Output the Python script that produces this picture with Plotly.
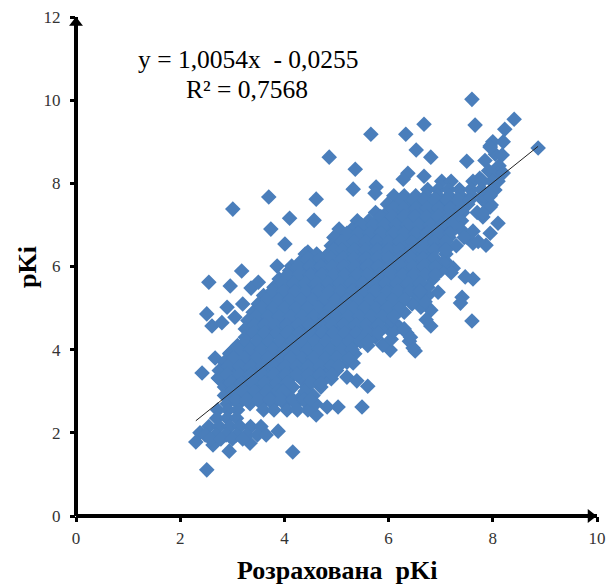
import plotly.graph_objects as go

# Isolated points
outlier_x = [7.60, 8.41, 8.23, 7.66, 6.68, 6.33, 5.66, 8.87, 4.86, 6.53, 6.81, 7.50, 5.36, 6.68, 6.37, 6.28,
             5.32, 5.76, 5.74, 4.61, 4.57, 4.45, 3.70, 3.01, 4.10, 3.74, 4.01, 3.18, 2.55, 2.96, 3.36, 3.86,
             4.14, 2.51, 2.61, 2.90, 2.42, 2.67, 2.96, 2.86, 2.73, 2.30, 2.51, 3.88, 4.16, 3.34, 2.94, 2.63,
             2.38, 7.60, 6.81, 6.03, 6.51, 5.32, 7.41, 7.62, 7.47, 7.24, 6.81, 6.62, 6.95, 7.87, 7.62, 7.95,
             8.10, 8.04, 7.97, 7.81, 5.49, 5.03, 4.82, 4.61, 5.60, 5.20, 5.39, 6.47, 5.89, 7.38, 7.70, 6.35,
             7.95, 8.05, 7.85, 8.12, 7.92, 7.75, 6.72, 6.40, 6.20, 4.42, 4.30, 3.50, 3.20, 3.05, 2.80,
             8.00, 8.20, 8.18, 7.95, 8.10, 7.98, 8.20, 8.10, 7.81, 7.95, 7.81, 7.49, 7.62, 7.72,
             6.00, 6.05, 6.10, 6.00, 6.60, 6.75, 6.70, 7.15, 7.20, 6.30, 6.42]
outlier_y = [10.02, 9.54, 9.30, 9.40, 9.42, 9.18, 9.18, 8.85, 8.63, 8.80, 8.63, 8.53, 8.34, 8.17, 8.24, 8.10,
             7.86, 7.91, 7.76, 7.62, 7.11, 6.35, 7.67, 7.38, 7.16, 6.90, 6.54, 5.89, 5.62, 5.53, 5.48, 6.01,
             6.01, 4.86, 4.57, 5.02, 3.44, 3.80, 3.92, 3.56, 3.32, 1.78, 1.11, 2.04, 1.54, 1.75, 1.56, 1.71,
             2.00, 4.69, 4.57, 3.99, 3.97, 3.68, 5.26, 5.70, 5.75, 5.96, 4.95, 5.02, 5.38, 6.51, 6.56, 6.80,
             7.04, 7.84, 7.48, 7.19, 2.62, 2.62, 2.62, 2.43, 3.12, 3.34, 3.25, 4.04, 4.11, 5.12, 7.30, 4.40,
             8.90, 8.70, 8.55, 8.42, 8.30, 8.12, 4.72, 4.20, 4.55, 5.55, 5.70, 5.62, 5.10, 4.78, 4.65,
             9.00, 9.00, 8.68, 8.87, 8.25, 8.25, 8.25, 8.05, 7.60, 7.43, 7.28, 6.71, 6.85, 6.60,
             4.50, 4.25, 4.45, 4.70, 5.30, 5.30, 5.15, 6.05, 5.85, 4.50, 4.30]

# Dense cloud
row_y = [8.05, 7.85, 7.70, 7.50, 7.30, 7.10, 6.90, 6.70, 6.50, 6.30, 6.10, 5.90, 5.70, 5.50, 5.30, 5.10,
         4.90, 4.70, 4.50, 4.30, 4.10, 3.90, 3.70, 3.50, 3.30, 3.10, 2.90, 2.70, 2.55, 2.35, 2.15, 1.95, 1.85]
row_x = [
    [7.02, 7.20, 7.62, 7.80, 7.98],
    [6.75, 6.95, 7.15, 7.36, 7.58, 7.78, 7.98],
    [6.10, 6.30, 6.52, 6.72, 6.94, 7.16, 7.38, 7.60, 7.82, 7.95],
    [5.98, 6.20, 6.42, 6.62, 6.84, 7.06, 7.28, 7.52],
    [5.75, 5.97, 6.19, 6.41, 6.63, 6.85, 7.07, 7.29, 7.42],
    [5.40, 5.62, 5.84, 6.06, 6.28, 6.50, 6.72, 6.94, 7.16, 7.40],
    [5.05, 5.30, 5.52, 5.74, 5.96, 6.18, 6.40, 6.62, 6.84, 7.06, 7.38],
    [4.95, 5.18, 5.40, 5.62, 5.84, 6.06, 6.28, 6.50, 6.72, 6.94, 7.16, 7.45],
    [4.90, 5.06, 5.28, 5.50, 5.72, 5.94, 6.16, 6.38, 6.60, 6.82, 7.04, 7.30],
    [4.40, 4.62, 4.84, 5.06, 5.28, 5.50, 5.72, 5.94, 6.16, 6.38, 6.60, 6.82, 7.10],
    [4.30, 4.52, 4.74, 4.96, 5.18, 5.40, 5.62, 5.84, 6.06, 6.28, 6.50, 6.72, 7.05],
    [4.10, 4.32, 4.54, 4.76, 4.98, 5.20, 5.42, 5.64, 5.86, 6.08, 6.30, 6.52, 6.74, 7.00],
    [3.90, 4.12, 4.34, 4.56, 4.78, 5.00, 5.22, 5.44, 5.66, 5.88, 6.10, 6.32, 6.54, 6.85],
    [3.80, 4.02, 4.24, 4.46, 4.68, 4.90, 5.12, 5.34, 5.56, 5.78, 6.00, 6.22, 6.44, 6.75],
    [3.60, 3.82, 4.04, 4.26, 4.48, 4.70, 4.92, 5.14, 5.36, 5.58, 5.80, 6.02, 6.24, 6.55],
    [3.50, 3.72, 3.94, 4.16, 4.38, 4.60, 4.82, 5.04, 5.26, 5.48, 5.70, 5.92, 6.14, 6.45],
    [3.40, 3.62, 3.84, 4.06, 4.28, 4.50, 4.72, 4.94, 5.16, 5.38, 5.60, 5.82, 6.04, 6.30],
    [3.30, 3.52, 3.74, 3.96, 4.18, 4.40, 4.62, 4.84, 5.06, 5.28, 5.50, 5.72, 6.05],
    [3.25, 3.45, 3.66, 3.88, 4.10, 4.32, 4.54, 4.76, 4.98, 5.20, 5.42, 5.64, 5.85],
    [3.25, 3.48, 3.70, 3.92, 4.14, 4.36, 4.58, 4.80, 5.02, 5.24, 5.46, 5.75],
    [3.10, 3.32, 3.54, 3.76, 3.98, 4.20, 4.42, 4.64, 4.86, 5.08, 5.30, 5.60],
    [2.95, 3.18, 3.40, 3.62, 3.84, 4.06, 4.28, 4.50, 4.72, 4.94, 5.16, 5.35],
    [2.85, 3.08, 3.30, 3.52, 3.74, 3.96, 4.18, 4.40, 4.62, 4.84, 5.20],
    [2.75, 2.98, 3.20, 3.42, 3.64, 3.86, 4.08, 4.30, 4.52, 4.74, 5.00],
    [2.75, 3.00, 3.22, 3.44, 3.66, 3.88, 4.10, 4.32, 4.54, 4.76, 4.90],
    [2.85, 3.08, 3.30, 3.52, 3.74, 3.96, 4.16, 4.42, 4.70],
    [2.85, 3.02, 3.24, 3.46, 3.68, 3.90, 4.05, 4.35, 4.55],
    [2.90, 3.12, 3.34, 3.56, 3.78, 4.00, 4.22, 4.44, 4.60],
    [2.72, 2.92, 3.10, 3.60, 3.80, 4.05, 4.25, 4.45],
    [2.70, 2.90, 3.08],
    [2.55, 2.75, 2.95, 3.15, 3.35, 3.55],
    [2.48, 2.68, 2.88, 3.08, 3.28, 3.48, 3.65],
    [2.58, 2.78, 3.00, 3.20],
]

# Points lying between those rows in the dense cloud
mid_y = [7.60, 7.40, 7.20, 7.00, 6.80, 6.60, 6.40, 6.20, 6.00, 5.80, 5.60, 5.40, 5.20, 5.00,
         4.80, 4.60, 4.40, 4.20, 4.00, 3.80, 3.60, 3.40, 3.20, 3.00, 2.80]
mid_x = [
    [6.26, 6.48, 6.68, 6.90, 7.12, 7.34, 7.56],
    [6.08, 6.30, 6.52, 6.74, 6.96, 7.18, 7.40],
    [5.85, 6.07, 6.29, 6.51, 6.73, 6.95, 7.17],
    [5.48, 5.70, 5.92, 6.14, 6.36, 6.58, 6.80, 7.02, 7.24],
    [5.20, 5.42, 5.64, 5.86, 6.08, 6.30, 6.52, 6.74, 6.96, 7.18],
    [5.10, 5.34, 5.56, 5.78, 6.00, 6.22, 6.44, 6.66, 6.88, 7.10],
    [4.95, 5.12, 5.34, 5.56, 5.78, 6.00, 6.22, 6.44, 6.66, 6.88, 7.10],
    [4.46, 4.68, 4.90, 5.12, 5.34, 5.56, 5.78, 6.00, 6.22, 6.44, 6.66, 6.88],
    [4.26, 4.48, 4.70, 4.92, 5.14, 5.36, 5.58, 5.80, 6.02, 6.24, 6.46, 6.68, 6.90],
    [4.06, 4.28, 4.50, 4.72, 4.94, 5.16, 5.38, 5.60, 5.82, 6.04, 6.26, 6.48, 6.70, 6.90],
    [3.96, 4.18, 4.40, 4.62, 4.84, 5.06, 5.28, 5.50, 5.72, 5.94, 6.16, 6.38, 6.60],
    [3.76, 3.98, 4.20, 4.42, 4.64, 4.86, 5.08, 5.30, 5.52, 5.74, 5.96, 6.18, 6.40, 6.60],
    [3.66, 3.88, 4.10, 4.32, 4.54, 4.76, 4.98, 5.20, 5.42, 5.64, 5.86, 6.08, 6.30],
    [3.56, 3.78, 4.00, 4.22, 4.44, 4.66, 4.88, 5.10, 5.32, 5.54, 5.76, 5.98, 6.20],
    [3.46, 3.68, 3.90, 4.12, 4.34, 4.56, 4.78, 5.00, 5.22, 5.44, 5.66, 5.88, 6.10],
    [3.42, 3.62, 3.82, 4.04, 4.26, 4.48, 4.70, 4.92, 5.14, 5.36, 5.58, 5.80],
    [3.40, 3.62, 3.84, 4.06, 4.28, 4.50, 4.72, 4.94, 5.16, 5.38, 5.60, 5.80],
    [3.26, 3.48, 3.70, 3.92, 4.14, 4.36, 4.58, 4.80, 5.02, 5.24, 5.46, 5.60],
    [3.12, 3.34, 3.56, 3.78, 4.00, 4.22, 4.44, 4.66, 4.88, 5.10, 5.30],
    [3.02, 3.24, 3.46, 3.68, 3.90, 4.12, 4.34, 4.56, 4.78, 5.00, 5.24],
    [2.92, 3.14, 3.36, 3.58, 3.80, 4.02, 4.24, 4.46, 4.68, 4.90, 5.04],
    [2.90, 3.14, 3.36, 3.58, 3.80, 4.02, 4.24, 4.46, 4.68, 4.92],
    [2.96, 3.18, 3.40, 3.62, 3.84, 4.06, 4.50, 4.70],
    [3.00, 3.22, 3.44, 3.66, 3.88, 3.98, 4.40],
    [3.06, 3.28, 3.50, 3.72, 3.94, 4.16, 4.38, 4.50],
]

core_x = [x for row in row_x + mid_x for x in row]
core_y = [y for y, row in zip(row_y + mid_y, row_x + mid_x) for _ in row]

trend_x = [2.30, 8.87]
trend_y = [2.29, 8.89]

x_ticks = [0, 2, 4, 6, 8, 10]
y_ticks = [0, 2, 4, 6, 8, 10, 12]

x_title = "Розрахована\u00a0 pKi"
y_title = "pKi"
equation = "y = 1,0054x\u00a0 - 0,0255"
r_squared = "R² = 0,7568"

BLUE = "#4A7EBB"
FONT = "Liberation Serif"


def note(text, px, py, size, angle=0):
    """Text placed by its centre, in the reference's pixel coordinates."""
    return dict(text=text, xref="paper", yref="paper", showarrow=False, textangle=angle,
                xanchor="center", yanchor="middle",
                x=(px - 76) / 521, y=(516 - py) / 499,
                font=dict(family=FONT, size=size, color="black"))


fig = go.Figure()
fig.add_trace(go.Scatter(x=outlier_x + core_x, y=outlier_y + core_y, mode="markers",
                         marker=dict(symbol="diamond", size=12, color=BLUE, line=dict(width=0)),
                         showlegend=False))
fig.add_trace(go.Scatter(x=trend_x, y=trend_y, mode="lines",
                         line=dict(color="#222222", width=1), showlegend=False))
fig.add_trace(go.Scatter(x=[0], y=[11.86], mode="markers", cliponaxis=False,
                         marker=dict(symbol="triangle-up", size=12, color="black"), showlegend=False))
fig.add_trace(go.Scatter(x=[9.88], y=[0], mode="markers", cliponaxis=False,
                         marker=dict(symbol="triangle-right", size=12, color="black"), showlegend=False))

axis = dict(showgrid=False, showline=False, zeroline=True, zerolinecolor="black", zerolinewidth=3.5,
            ticks="outside", ticklen=5, tickwidth=3, tickcolor="black", automargin=False,
            ticklabeloverflow="allow",
            tickfont=dict(family=FONT, size=17, color="#333333"))
fig.update_layout(
    width=606, height=585, margin=dict(l=76, r=9, t=17, b=69),
    paper_bgcolor="white", plot_bgcolor="white", showlegend=False,
    xaxis=dict(range=[0, 10], tickvals=x_ticks, ticklabelstandoff=2, **axis),
    yaxis=dict(range=[0, 12], tickvals=y_ticks, ticklabelstandoff=6, **axis),
    annotations=[
        note(f"<b>{x_title}</b>", 337, 570, 26),
        note(f"<b>{y_title}</b>", 27, 267, 26, -90),
        note(equation, 248, 60, 25.5),
        note(r_squared, 247, 89, 25.5),
    ],
)
fig.write_html("out.html", config={"displayModeBar": False},
               post_script="document.body.style.margin='0';document.body.style.overflow='hidden';")
